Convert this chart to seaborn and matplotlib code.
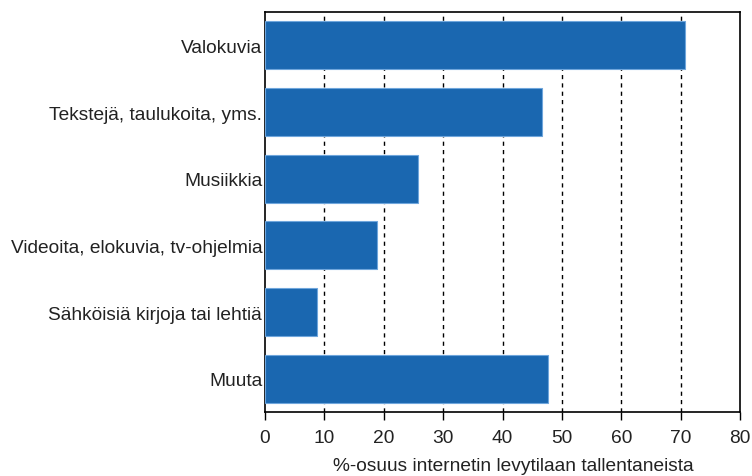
import matplotlib
matplotlib.use("Agg")
import matplotlib.pyplot as plt
import seaborn as sns
import pandas as pd

categories = ["Valokuvia", "Tekstejä, taulukoita, yms.", "Musiikkia",
              "Videoita, elokuvia, tv-ohjelmia", "Sähköisiä kirjoja tai lehtiä", "Muuta"]
values = [70.7, 46.6, 25.8, 18.9, 8.8, 47.7]
xticks = [0, 10, 20, 30, 40, 50, 60, 70, 80]
xlabel = "%-osuus internetin levytilaan tallentaneista"

sns.set_style("white")
plt.rcParams["font.family"] = ["Liberation Sans", "DejaVu Sans"]
plt.rcParams["font.size"] = 13.8

df = pd.DataFrame({"cat": categories, "val": values})

fig = plt.figure(figsize=(7.52, 4.77), dpi=100)
ax = fig.add_axes([265/752, 1-413/477, 475/752, 400/477])

sns.barplot(data=df, y="cat", x="val", orient="h", color="#1a67b0",
            saturation=1, width=0.72, edgecolor="#6fa6dc", linewidth=0.8,
            ax=ax, zorder=3)

ax.set_xlim(0, 80)
ax.set_ylim(5.5, -0.5)
ax.set_xticks(xticks)
ax.set_xticklabels([str(t) for t in xticks], fontsize=13.8, color="#222222")
ax.set_ylabel("")
ax.set_xlabel(xlabel, fontsize=13.8, color="#222222")
ax.xaxis.set_label_coords(0.522, -0.112)
ax.tick_params(axis="x", direction="out", length=6, width=1, color="black", pad=6, bottom=True)
ax.tick_params(axis="y", length=0, pad=2, labelsize=13.8, labelcolor="#222222")

for t in xticks[1:-1]:
    ax.axvline(t, color="black", linestyle=(0, (3, 3)), linewidth=1.0, zorder=1)

for s in ax.spines.values():
    s.set_visible(True)
    s.set_color("black")
    s.set_linewidth(1.2)

fig.savefig("out.png", dpi=100)
